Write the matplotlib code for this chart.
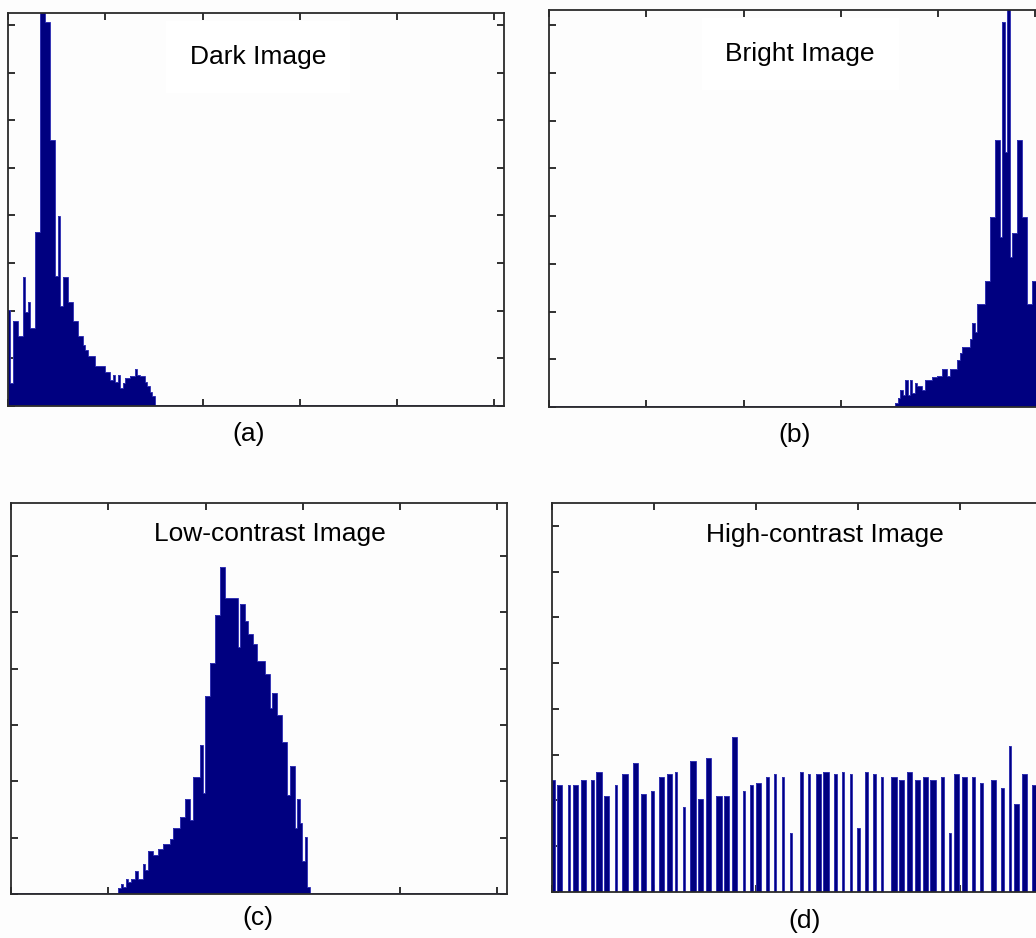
import numpy as np
import matplotlib
matplotlib.use('Agg')
import matplotlib.pyplot as plt

plt.rcParams['font.family'] = ['Liberation Sans', 'DejaVu Sans']

# ---------------- data (bin counts, relative units; 200 bins over 0..256) ----------------
N_BINS = 200

dark_start = 0
dark_counts = [2.02, 0.49, 1.79, 1.79, 1.46, 1.46, 2.70, 1.98, 2.19, 1.63,
               1.63, 3.66, 3.66, 8.60, 8.60, 8.07, 8.07, 5.59, 5.59, 2.72,
               3.99, 2.09, 2.70, 2.70, 2.19, 2.19, 1.79, 1.79, 1.46, 1.46,
               1.28, 1.18, 1.04, 1.04, 1.04, 0.83, 0.83, 0.83, 0.83, 0.72,
               0.72, 0.55, 0.65, 0.51, 0.65, 0.37, 0.48, 0.58, 0.58, 0.62,
               0.62, 0.77, 0.65, 0.62, 0.62, 0.51, 0.41, 0.30, 0.20]

bright_start = 139
bright_counts = [0.08, 0.19, 0.35, 0.26, 0.57, 0.26, 0.57, 0.30, 0.50, 0.43,
                 0.45, 0.36, 0.57, 0.57, 0.57, 0.62, 0.62, 0.66, 0.66, 0.79,
                 0.79, 0.66, 0.79, 0.79, 0.79, 0.99, 1.13, 1.25, 1.25, 1.25,
                 1.42, 1.76, 1.58, 2.16, 2.16, 2.16, 2.65, 2.65, 3.99, 3.99,
                 5.59, 5.59, 3.57, 8.07, 5.35, 8.60, 3.15, 3.64, 3.64, 5.59,
                 5.59, 3.99, 3.99, 2.16, 2.16, 2.65, 2.65]

low_start = 43
low_counts = [0.11, 0.17, 0.12, 0.27, 0.22, 0.27, 0.27, 0.40, 0.27, 0.27,
              0.54, 0.43, 0.76, 0.76, 0.70, 0.70, 0.79, 0.79, 0.89, 0.89,
              0.89, 0.98, 1.17, 1.17, 1.17, 1.37, 1.37, 1.69, 1.69, 1.31,
              2.08, 2.08, 2.08, 2.65, 1.80, 3.51, 3.51, 4.10, 4.10, 4.96,
              4.96, 5.80, 5.80, 5.25, 5.25, 5.25, 5.25, 5.25, 4.38, 5.14,
              5.14, 4.84, 4.62, 4.62, 4.43, 4.43, 4.13, 4.13, 4.13, 3.91,
              3.91, 3.31, 3.57, 3.57, 3.18, 3.18, 2.70, 2.70, 1.76, 2.27,
              2.27, 1.17, 1.69, 1.26, 0.58, 1.02, 0.12]

high_bins = [0, 2, 3, 6, 8, 9, 11, 12, 15, 17, 18, 20, 21, 24, 27, 28, 31, 32,
             34, 35, 38, 41, 42, 44, 45, 47, 50, 53, 54, 56, 57, 59, 60, 63, 64,
             66, 67, 69, 70, 73, 76, 78, 79, 82, 85, 88, 91, 95, 98, 101, 102,
             104, 105, 108, 111, 114, 117, 120, 123, 126, 130, 131, 133, 134,
             136, 137, 139, 140, 142, 143, 145, 146, 149, 152, 154, 155, 157,
             158, 161, 164, 168, 169, 172, 175, 177, 178, 180, 181, 184, 185]
high_counts = [2.45, 2.34, 2.34, 2.34, 2.34, 2.34, 2.45, 2.45, 2.45, 2.63, 2.63,
               2.09, 2.09, 2.34, 2.57, 2.57, 2.81, 2.81, 2.15, 2.15, 2.21, 2.52,
               2.52, 2.57, 2.57, 2.63, 1.86, 2.87, 2.87, 2.04, 2.04, 2.93, 2.93,
               2.09, 2.09, 2.09, 2.09, 3.39, 3.39, 2.21, 2.34, 2.39, 2.39, 2.52,
               2.57, 2.52, 1.28, 2.63, 2.57, 2.57, 2.57, 2.63, 2.63, 2.57, 2.63,
               2.57, 1.39, 2.63, 2.57, 2.52, 2.52, 2.52, 2.45, 2.45, 2.63, 2.63,
               2.45, 2.45, 2.52, 2.52, 2.45, 2.45, 2.52, 1.28, 2.57, 2.57, 2.52,
               2.52, 2.52, 2.39, 2.45, 2.45, 2.28, 3.18, 1.93, 1.93, 2.57, 2.57,
               2.34, 2.34]

titles = ["Dark Image", "Bright Image", "Low-contrast Image", "High-contrast Image"]
labels = ["(a)", "(b)", "(c)", "(d)"]
x_ticks = [0, 50, 100, 150, 200, 250]

# ---------------- figure ----------------
W, H = 1036, 938
BG = '#fdfdfd'
fig = plt.figure(figsize=(W / 100, H / 100), dpi=100, facecolor=BG)

edges = np.linspace(0, 256, N_BINS + 1)


def full(start, vals):
    arr = np.zeros(N_BINS)
    arr[start:start + len(vals)] = vals
    return arr


def sparse(idx, vals):
    arr = np.zeros(N_BINS)
    arr[np.array(idx)] = vals
    return arr


def px_axes(l, t, w, h):
    return fig.add_axes([l / W, 1 - (t + h) / H, w / W, h / H])


series = [full(dark_start, dark_counts), full(bright_start, bright_counts),
          full(low_start, low_counts), sparse(high_bins, high_counts)]

# pixel layouts: (left, top, width, height), ylim top
rects = [(8, 13, 496, 393), (549, 10, 496, 397), (11, 503, 496, 391), (552, 503, 520, 389)]
ytops = [8.25, 8.32, 6.94, 8.5]
title_pos = [(258, 64), (800, 61), (270, 541), (825, 542)]
title_box = [True, True, False, False]
label_pos = [(249, 434), (795, 435), (258, 918), (805, 921)]

FACE = '#000080'
EDGE = '#3434b4'

for i in range(4):
    ax = px_axes(*rects[i])
    ax.set_facecolor(BG)
    vals = series[i]
    ax.stairs(vals, edges, fill=True, color=FACE, zorder=2)
    ax.stairs(vals, edges, color=EDGE, linewidth=0.7, zorder=2.5)
    if i < 3:
        ax.axhline(0, color='#2a2aa8', linewidth=2.0, zorder=3)
    ax.set_xlim(0, 255)
    ax.set_ylim(0, ytops[i])
    ax.set_xticks(x_ticks)
    ax.set_yticks(np.arange(0, int(ytops[i]) + 1))
    ax.tick_params(direction='in', length=5, width=1.3, color='#202020',
                   top=True, right=True, labelbottom=False, labelleft=False)
    for s in ax.spines.values():
        s.set_color('#2a2a2a')
        s.set_linewidth(1.3)
        s.set_zorder(4)

    tx, ty = title_pos[i]
    kw = {}
    if title_box[i]:
        kw['bbox'] = dict(boxstyle='square,pad=0.9', facecolor='white', edgecolor='none')
    fig.text(tx / W, 1 - ty / H, titles[i], ha='center', va='baseline',
             fontsize=19, color='black', **kw)
    lx, ly = label_pos[i]
    fig.text(lx / W, 1 - ly / H, labels[i], ha='center', va='center',
             fontsize=19, color='black')

fig.savefig('out.png', dpi=100, facecolor=BG)
